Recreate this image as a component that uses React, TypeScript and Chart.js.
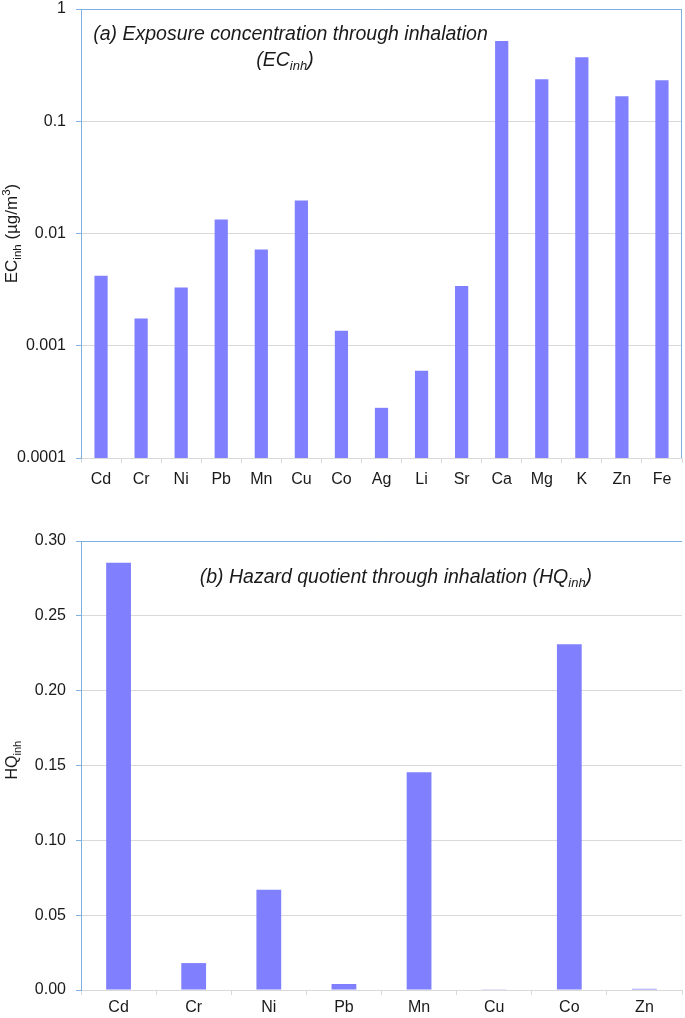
import React, { useEffect, useRef } from "react";
import { Chart, registerables } from "chart.js";

Chart.register(...registerables);

// ---------- Data ----------
const ecCategories = ["Cd", "Cr", "Ni", "Pb", "Mn", "Cu", "Co", "Ag", "Li", "Sr", "Ca", "Mg", "K", "Zn", "Fe"];
const ecInhValues = [0.0042, 0.00175, 0.0033, 0.0133, 0.0072, 0.0197, 0.00136, 0.00028, 0.0006, 0.0034, 0.52, 0.237, 0.372, 0.167, 0.232];
const ecTickValues = [0.0001, 0.001, 0.01, 0.1, 1];
const ecTickLabels = ["0.0001", "0.001", "0.01", "0.1", "1"];

const hqCategories = ["Cd", "Cr", "Ni", "Pb", "Mn", "Cu", "Co", "Zn"];
const hqInhValues = [0.2855, 0.018, 0.067, 0.004, 0.1455, 0.0002, 0.231, 0.0008];
const hqTickValues = [0, 0.05, 0.1, 0.15, 0.2, 0.25, 0.3];
const hqTickLabels = ["0.00", "0.05", "0.10", "0.15", "0.20", "0.25", "0.30"];

// ---------- Styles ----------
const FONT = "'Liberation Sans', Arial, Helvetica, sans-serif";
const BAR = "#8080ff";
const AXIS_BLUE = "#7eb0e2";
const GRID = "#d9d9d9";
const TEXT = "#1a1a1a";

type Part = { t: string; size: number; dy?: number; italic?: boolean };

function drawRich(ctx: CanvasRenderingContext2D, parts: Part[], cx: number, baseline: number) {
  ctx.save();
  ctx.fillStyle = TEXT;
  ctx.textBaseline = "alphabetic";
  ctx.textAlign = "left";
  let total = 0;
  const widths = parts.map((p) => {
    ctx.font = `${p.italic ? "italic " : ""}${p.size}px ${FONT}`;
    const w = ctx.measureText(p.t).width;
    total += w;
    return w;
  });
  let x = cx - total / 2;
  parts.forEach((p, i) => {
    ctx.font = `${p.italic ? "italic " : ""}${p.size}px ${FONT}`;
    ctx.fillText(p.t, x, baseline + (p.dy || 0));
    x += widths[i];
  });
  ctx.restore();
}

function makeDecorPlugin(opts: {
  id: string;
  rightBorder: boolean;
  titles: { parts: Part[]; fx: number; by: number }[];
  yTitle: { parts: Part[]; x: number; fy: number };
}) {
  return {
    id: opts.id,
    afterDraw(chart: any) {
      const { ctx, chartArea } = chart;
      const { left, right, top, bottom } = chartArea;
      ctx.save();
      ctx.strokeStyle = AXIS_BLUE;
      ctx.lineWidth = 1;
      ctx.beginPath();
      ctx.moveTo(left, Math.round(top) + 0.5);
      ctx.lineTo(right, Math.round(top) + 0.5);
      if (opts.rightBorder) {
        ctx.moveTo(Math.round(right) - 0.5, top);
        ctx.lineTo(Math.round(right) - 0.5, bottom);
      }
      ctx.stroke();
      ctx.restore();

      opts.titles.forEach((tt) => {
        drawRich(ctx, tt.parts, left + (right - left) * tt.fx, top + tt.by);
      });

      ctx.save();
      const cy = top + (bottom - top) * opts.yTitle.fy;
      ctx.translate(opts.yTitle.x, cy);
      ctx.rotate(-Math.PI / 2);
      drawRich(ctx, opts.yTitle.parts, 0, 0);
      ctx.restore();
    },
  };
}

function ChartCanvas({ config, width, height, top }: { config: any; width: number; height: number; top: number }) {
  const ref = useRef<HTMLCanvasElement | null>(null);
  useEffect(() => {
    if (!ref.current) return;
    const chart = new Chart(ref.current, config);
    return () => chart.destroy();
  }, []);
  return (
    <canvas
      ref={ref}
      width={width}
      height={height}
      style={{ position: "absolute", left: 0, top, width, height, display: "block" }}
    />
  );
}

export default function App() {
  Chart.defaults.font.family = FONT;

  const ecConfig = {
    type: "bar",
    data: {
      labels: ecCategories,
      datasets: [
        {
          data: ecInhValues,
          backgroundColor: BAR,
          borderWidth: 0,
          categoryPercentage: 1,
          barPercentage: 0.33,
        },
      ],
    },
    options: {
      responsive: false,
      animation: false,
      layout: { padding: { left: 8, right: 3, top: 9, bottom: 0 } },
      plugins: { legend: { display: false }, tooltip: { enabled: false } },
      scales: {
        x: {
          grid: { offset: true, drawOnChartArea: false, drawTicks: true, tickLength: 5, color: GRID },
          border: { color: GRID },
          ticks: { font: { size: 16 }, color: TEXT, padding: 7, maxRotation: 0, autoSkip: false },
          afterFit: (s: any) => {
            s.height = 42;
          },
        },
        y: {
          type: "logarithmic",
          min: 0.0001,
          max: 1,
          afterBuildTicks: (s: any) => {
            s.ticks = ecTickValues.map((v) => ({ value: v, major: true }));
          },
          ticks: {
            font: { size: 16 },
            color: TEXT,
            padding: 10,
            callback: (v: number) => {
              const i = ecTickValues.findIndex((t) => Math.abs(t - v) / t < 1e-6);
              return i >= 0 ? ecTickLabels[i] : "";
            },
          },
          grid: { color: GRID, tickColor: AXIS_BLUE, tickLength: 5 },
          border: { color: AXIS_BLUE },
          afterFit: (s: any) => {
            s.width = 73;
            s.paddingTop = 0;
            s.paddingBottom = 0;
          },
        },
      },
    },
    plugins: [
      makeDecorPlugin({
        id: "decorTop",
        rightBorder: true,
        titles: [
          { parts: [{ t: "(a) Exposure concentration through inhalation", size: 19.5, italic: true }], fx: 0.3486, by: 31 },
          {
            parts: [
              { t: "(EC", size: 19.5, italic: true },
              { t: "inh", size: 13, italic: true, dy: 4 },
              { t: ")", size: 19.5, italic: true },
            ],
            fx: 0.3394,
            by: 57,
          },
        ],
        yTitle: {
          parts: [
            { t: "EC", size: 17 },
            { t: "inh", size: 11.5, dy: 4 },
            { t: " (µg/m", size: 17 },
            { t: "3", size: 11.5, dy: -7 },
            { t: ")", size: 17 },
          ],
          x: 17,
          fy: 0.5,
        },
      }),
    ],
  };

  const hqConfig = {
    type: "bar",
    data: {
      labels: hqCategories,
      datasets: [
        {
          data: hqInhValues,
          backgroundColor: BAR,
          borderWidth: 0,
          categoryPercentage: 1,
          barPercentage: 0.33,
        },
      ],
    },
    options: {
      responsive: false,
      animation: false,
      layout: { padding: { left: 8, right: 3, top: 41, bottom: 0 } },
      plugins: { legend: { display: false }, tooltip: { enabled: false } },
      scales: {
        x: {
          grid: { offset: true, drawOnChartArea: false, drawTicks: true, tickLength: 5, color: GRID },
          border: { color: GRID },
          ticks: { font: { size: 16 }, color: TEXT, padding: 3, maxRotation: 0, autoSkip: false },
          afterFit: (s: any) => {
            s.height = 28;
          },
        },
        y: {
          min: 0,
          max: 0.3,
          afterBuildTicks: (s: any) => {
            s.ticks = hqTickValues.map((v) => ({ value: v }));
          },
          ticks: {
            font: { size: 16 },
            color: TEXT,
            padding: 10,
            callback: (v: number) => {
              const i = hqTickValues.findIndex((t) => Math.abs(t - v) < 1e-9);
              return i >= 0 ? hqTickLabels[i] : "";
            },
          },
          grid: { color: GRID, tickColor: AXIS_BLUE, tickLength: 5 },
          border: { color: AXIS_BLUE },
          afterFit: (s: any) => {
            s.width = 73;
            s.paddingTop = 0;
            s.paddingBottom = 0;
          },
        },
      },
    },
    plugins: [
      makeDecorPlugin({
        id: "decorBottom",
        rightBorder: false,
        titles: [
          {
            parts: [
              { t: "(b) Hazard quotient through inhalation (HQ", size: 19.5, italic: true },
              { t: "inh", size: 13, italic: true, dy: 4 },
              { t: ")", size: 19.5, italic: true },
            ],
            fx: 0.524,
            by: 42,
          },
        ],
        yTitle: {
          parts: [
            { t: "HQ", size: 16 },
            { t: "inh", size: 11, dy: 4 },
          ],
          x: 17,
          fy: 0.488,
        },
      }),
    ],
  };

  return (
    <div style={{ position: "absolute", left: 0, top: 0, width: 685, height: 1018, background: "#fff" }}>
      <ChartCanvas config={ecConfig} width={685} height={500} top={0} />
      <ChartCanvas config={hqConfig} width={685} height={518} top={500} />
    </div>
  );
}
